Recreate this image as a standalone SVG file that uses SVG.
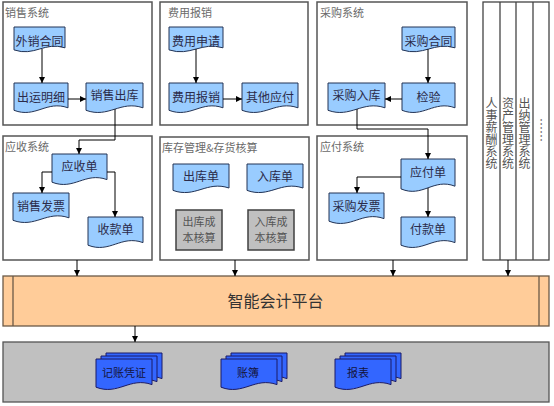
<svg xmlns="http://www.w3.org/2000/svg" width="554" height="406" viewBox="0 0 554 406">
<defs>
<marker id="ah" viewBox="0 0 10 10" refX="10" refY="5" markerWidth="6" markerHeight="6" markerUnits="userSpaceOnUse" orient="auto"><path d="M0,0L10,5L0,10Z" fill="#000"/></marker>
<style>
text{font-family:"Noto Sans CJK SC","Noto Sans",sans-serif}
.panel{fill:#fff;stroke:#555;stroke-width:1.5}
.ptitle{font-size:11px;fill:#6a6a6a}
.doc{fill:#99ccff;stroke:#223355;stroke-width:1}
.dt{font-size:12px;fill:#2b2b4a;text-anchor:middle}
.cost{fill:#c0c0c0;stroke:#404040;stroke-width:1.5}
.ct{font-size:11px;fill:#555;text-anchor:middle}
.conn{fill:none;stroke:#000;stroke-width:1;marker-end:url(#ah)}
.md{fill:#3366ff;stroke:#1a1a66;stroke-width:1}
.mt{font-size:11px;fill:#14143c;text-anchor:middle}
.vt{font-size:12px;fill:#555;writing-mode:vertical-rl}
</style>
</defs>

<g id="panels">
<rect id="p-sales" class="panel" x="3" y="2" width="149" height="123"/>
<text class="ptitle" x="5" y="17">销售系统</text>
<rect id="p-expense" class="panel" x="160" y="2" width="148" height="123"/>
<text class="ptitle" x="168" y="17">费用报销</text>
<rect id="p-purchase" class="panel" x="317" y="2" width="150" height="123"/>
<text class="ptitle" x="320" y="17">采购系统</text>
<rect id="p-ar" class="panel" x="3" y="136" width="149" height="124"/>
<text class="ptitle" x="5" y="151">应收系统</text>
<rect id="p-inv" class="panel" x="160" y="137" width="149" height="123"/>
<text class="ptitle" x="162" y="152">库存管理&amp;存货核算</text>
<rect id="p-ap" class="panel" x="317" y="136" width="150" height="124"/>
<text class="ptitle" x="320" y="151">应付系统</text>
</g>

<g id="columns">
<rect x="483" y="2" width="66" height="258" fill="#fff" stroke="#444" stroke-width="1.3"/>
<line x1="500" y1="2" x2="500" y2="260" stroke="#444" stroke-width="1.3"/>
<line x1="516" y1="2" x2="516" y2="260" stroke="#444" stroke-width="1.3"/>
<line x1="533" y1="2" x2="533" y2="260" stroke="#444" stroke-width="1.3"/>
<text class="vt" x="491.5" y="97">人事薪酬系统</text>
<text class="vt" x="508" y="97">资产管理系统</text>
<text class="vt" x="524.5" y="97">出纳管理系统</text>
<text class="vt" x="541" y="118">……</text>
</g>

<g id="n-waixiao"><path class="doc" d="M14,27H65V47.8C44.6,41.3 34.4,56.9 14,49.9Z"/><text class="dt" x="39.5" y="46">外销合同</text></g>
<g id="n-chuyun"><path class="doc" d="M14,83H68V107.8C46.4,100 35.6,118.6 14,110.3Z"/><text class="dt" x="41" y="102">出运明细</text></g>
<g id="n-xiaoshouchuku"><path class="doc" d="M86,83H143V107.8C120.2,100 108.8,118.6 86,110.3Z"/><text class="dt" x="114.5" y="100">销售出库</text></g>
<g id="n-feiyongshenqing"><path class="doc" d="M169,27H223V47.8C201.4,41.3 190.6,56.9 169,49.9Z"/><text class="dt" x="196" y="46">费用申请</text></g>
<g id="n-feiyongbaoxiao"><path class="doc" d="M169,83H223V107.8C201.4,100 190.6,118.6 169,110.3Z"/><text class="dt" x="196" y="102">费用报销</text></g>
<g id="n-qitayingfu"><path class="doc" d="M242,83H298V107.8C275.6,100 264.4,118.6 242,110.3Z"/><text class="dt" x="270" y="102">其他应付</text></g>
<g id="n-caigouhetong"><path class="doc" d="M402,27H455V47.8C433.8,41.3 423.2,56.9 402,49.9Z"/><text class="dt" x="428.5" y="46">采购合同</text></g>
<g id="n-jianyan"><path class="doc" d="M402,83H455V107.8C433.8,100 423.2,118.6 402,110.3Z"/><text class="dt" x="428.5" y="102">检验</text></g>
<g id="n-caigouruku"><path class="doc" d="M328,83H385V107.8C362.2,100 350.8,118.6 328,110.3Z"/><text class="dt" x="356.5" y="100">采购入库</text></g>

<g id="n-yingshoudan"><path class="doc" d="M52,154H107V179.6C85,171.6 74,190.8 52,182.2Z"/><text class="dt" x="79.5" y="171">应收单</text></g>
<g id="n-xiaoshoufapiao"><path class="doc" d="M13,193H69V217.8C46.6,210 35.4,228.6 13,220.3Z"/><text class="dt" x="41" y="211">销售发票</text></g>
<g id="n-shoukuandan"><path class="doc" d="M88,217H143V242.6C121,234.6 110,253.8 88,245.2Z"/><text class="dt" x="115.5" y="234">收款单</text></g>
<g id="n-chukudan"><path class="doc" d="M173,164H229V188C206.6,180.5 195.4,198.5 173,190.4Z"/><text class="dt" x="201" y="181">出库单</text></g>
<g id="n-rukudan"><path class="doc" d="M247,164H303V188C280.6,180.5 269.4,198.5 247,190.4Z"/><text class="dt" x="275" y="181">入库单</text></g>
<g id="n-chukuchengben"><rect class="cost" x="176" y="210" width="46" height="40"/><text class="ct" x="199" y="226">出库成</text><text class="ct" x="199" y="242">本核算</text></g>
<g id="n-rukuchengben"><rect class="cost" x="248" y="210" width="46" height="40"/><text class="ct" x="271" y="226">入库成</text><text class="ct" x="271" y="242">本核算</text></g>
<g id="n-yingfudan"><path class="doc" d="M401,159H455V186.2C433.4,177.7 422.6,198.1 401,188.9Z"/><text class="dt" x="428" y="177">应付单</text></g>
<g id="n-caigoufapiao"><path class="doc" d="M329,193H384V218.6C362,210.6 351,229.8 329,221.2Z"/><text class="dt" x="356.5" y="211">采购发票</text></g>
<g id="n-fukuandan"><path class="doc" d="M401,217H455V242.6C433.4,234.6 422.6,253.8 401,245.2Z"/><text class="dt" x="428" y="234">付款单</text></g>

<g id="n-platform">
<rect x="3" y="276" width="546" height="50" fill="#ffcc99" stroke="#6b5a48" stroke-width="1.3"/>
<line x1="13" y1="276" x2="13" y2="326" stroke="#6b5a48" stroke-width="1.3"/>
<line x1="539" y1="276" x2="539" y2="326" stroke="#6b5a48" stroke-width="1.3"/>
<text x="275.5" y="307" font-size="16" fill="#333" text-anchor="middle">智能会计平台</text>
</g>

<g id="n-output">
<rect x="3" y="342" width="546" height="60" fill="#c0c0c0" stroke="#555" stroke-width="1.3"/>
</g>
<g id="n-jizhangpingzheng">
<path class="md" d="M106,353H162V378.6C139.6,370.6 128.4,389.8 106,381.2Z"/>
<path class="md" d="M101,356H157V381.6C134.6,373.6 123.4,392.8 101,384.2Z"/>
<path class="md" d="M96,359H152V384.6C129.6,376.6 118.4,395.8 96,387.2Z"/>
<text class="mt" x="124" y="377">记账凭证</text>
</g>
<g id="n-zhangbu">
<path class="md" d="M231,353H287V378.6C264.6,370.6 253.4,389.8 231,381.2Z"/>
<path class="md" d="M226,356H282V381.6C259.6,373.6 248.4,392.8 226,384.2Z"/>
<path class="md" d="M221,359H277V384.6C254.6,376.6 243.4,395.8 221,387.2Z"/>
<text class="mt" x="248" y="377">账簿</text>
</g>
<g id="n-baobiao">
<path class="md" d="M345,353H401V378.6C378.6,370.6 367.4,389.8 345,381.2Z"/>
<path class="md" d="M340,356H396V381.6C373.6,373.6 362.4,392.8 340,384.2Z"/>
<path class="md" d="M335,359H391V384.6C368.6,376.6 357.4,395.8 335,387.2Z"/>
<text class="mt" x="358" y="377">报表</text>
</g>

<g id="connectors">
<path class="conn" d="M42,49V83"/>
<path class="conn" d="M68,99H86"/>
<path class="conn" d="M115,109V140H79V154"/>
<path class="conn" d="M196,49V83"/>
<path class="conn" d="M223,99H242"/>
<path class="conn" d="M428,49V83"/>
<path class="conn" d="M402,99H385"/>
<path class="conn" d="M357,109V129H428V159"/>
<path class="conn" d="M52,172H42V193"/>
<path class="conn" d="M107,172H115V217"/>
<path class="conn" d="M401,177H357V193"/>
<path class="conn" d="M428,188V217"/>
<path class="conn" d="M77,260V276"/>
<path class="conn" d="M235,260V276"/>
<path class="conn" d="M393,260V276"/>
<path class="conn" d="M508,260V276"/>
<path class="conn" d="M135,326V342"/>
</g>
</svg>
